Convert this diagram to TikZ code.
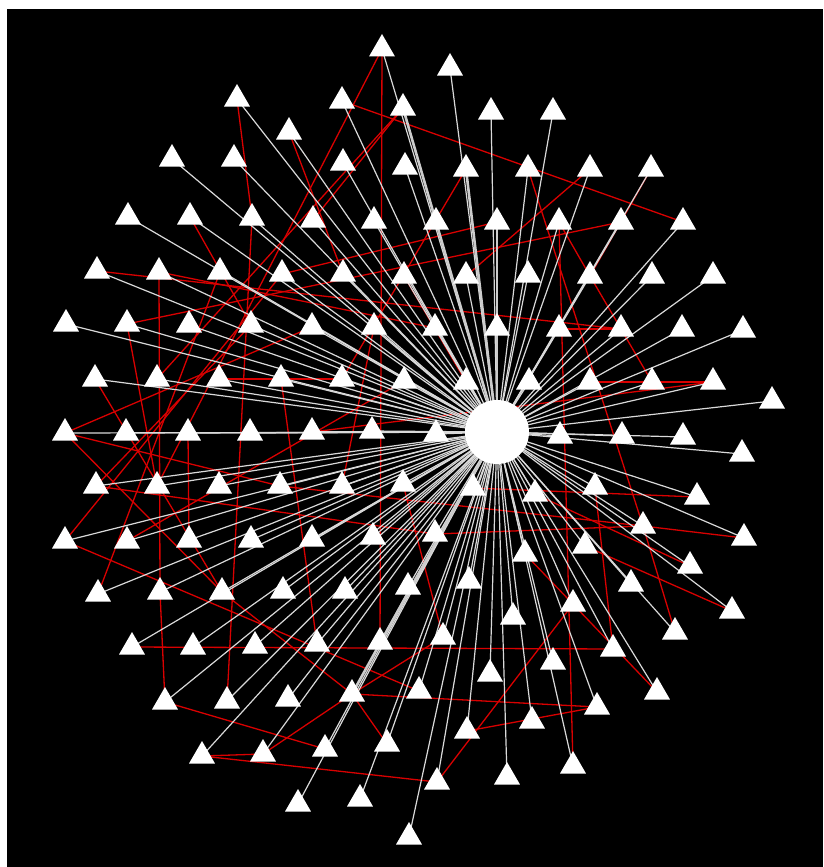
\documentclass[tikz,border=0pt]{standalone}
\usetikzlibrary{shapes.geometric}
\pgfdeclarelayer{bg}\pgfdeclarelayer{edges}\pgfsetlayers{bg,edges,main}
\begin{document}
\begin{tikzpicture}[x=1pt,y=-1pt,
 tri/.style={regular polygon, regular polygon sides=3, minimum size=30pt, inner sep=0pt, fill=white, draw=none},
 hub/.style={circle, fill=white, minimum size=64pt, inner sep=0pt},
 wedge/.style={draw=white!85!black, line width=1.2pt},
 wedgethick/.style={draw=white!80!black, line width=2.6pt},
 redge/.style={draw=red!85!black, line width=1.3pt}]
\def\tris{382/45, 450/64, 237/95, 342/97, 403/104, 491/108, 553/108, 289/128,
172/155, 234/155, 343/159, 405/163, 466/165, 528/165, 590/165, 651/165,
128/213, 190/213, 252/214, 313/216, 374/217, 436/218, 497/218, 559/218, 621/218, 683/218,
97/267, 159/268, 220/268, 282/270, 343/270, 404/272, 466/272, 528/271, 590/272, 652/272, 713/272,
66/320, 127/320, 189/321, 251/321, 312/323, 374/323, 435/324, 497/324, 559/325, 621/325, 682/325, 743/326,
95/375, 157/375, 219/375, 281/375, 342/375, 404/377, 466/378, 529/378, 590/378, 652/378, 713/378, 772/397,
65/429, 126/429, 188/429, 250/429, 312/428, 372/427, 436/430, 560/432, 622/432, 683/433, 742/450,
96/482, 157/482, 219/482, 280/482, 342/482, 403/480, 473/484, 535/490, 595/483, 697/493,
65/537, 127/537, 189/536, 251/536, 312/535, 373/533, 435/530, 525/550, 585/542, 643/522, 744/534,
98/590, 160/588, 222/588, 283/587, 345/587, 408/583, 469/577, 631/580, 690/562, 513/613, 573/600, 732/607, 675/628,
132/643, 193/643, 255/642, 317/640, 380/638, 443/633, 490/670, 553/658, 613/645,
165/698, 227/697, 288/695, 352/690, 419/687, 532/717, 597/703, 657/688,
202/752, 263/750, 325/745, 387/740, 467/727, 437/778, 507/773, 573/762,
298/800, 360/795, 409/833}
\begin{pgfonlayer}{bg}
\fill[white] (0,0) rectangle (823,867);
\fill[black] (7,9) rectangle (823,867);
\end{pgfonlayer}
\useasboundingbox (0,0) rectangle (823,867);
\node[hub] (c) at (497,432) {};
\foreach \x/\y in \tris {\node[tri] (n\x x\y) at (\x,\y+4) {};}
\begin{pgfonlayer}{edges}
\foreach \a/\b in {342x97/683x218, 382x45/380x638, 382x45/157x482, 237x95/252x214,
 252x214/227x697, 289x128/343x270, 313x216/403x104, 403x104/157x375, 466x165/342x375,
 590x165/466x272, 528x165/643x522, 559x218/590x272, 159x268/160x588, 160x588/165x698,
 132x643/613x645, 165x698/325x745, 202x752/263x750, 263x750/352x690,
 352x690/597x703, 352x690/387x740, 443x633/352x690, 467x727/597x703, 202x752/437x778,
 437x778/573x600, 403x480/443x633, 281x375/317x640, 559x218/573x762, 595x483/613x645,
 643x522/675x628, 473x484/697x493, 435x530/643x522, 643x522/744x534, 559x325/621x325,
 590x378/713x378, 312x428/713x378, 65x537/282x270, 65x429/222x588, 159x268/435x324,
 188x429/189x536, 127x320/157x482, 96x482/435x530, 127x320/621x218, 98x590/220x268,
 127x537/404x377, 65x429/312x323, 590x272/652x378, 651x165/590x272, 374x323/342x482,
 219x375/342x375, 190x213/251x321, 535x490/690x562, 585x542/732x607, 525x550/657x688,
 404x272/466x378, 65x537/419x687, 222x588/352x690, 280x482/643x522, 97x267/621x325,
 282x270/497x218, 95x375/222x588, 65x429/280x482, 96x482/251x321}
 {\draw[redge] (n\a.center) -- (n\b.center);}
\foreach \x/\y in \tris {\draw[wedge] (c.center) -- (n\x x\y.center);}
\foreach \x/\y in {497/218, 403/104, 352/690, 466/165}
 {\draw[wedgethick] (c.center) -- (n\x x\y.center);}
\end{pgfonlayer}
\end{tikzpicture}
\end{document}
